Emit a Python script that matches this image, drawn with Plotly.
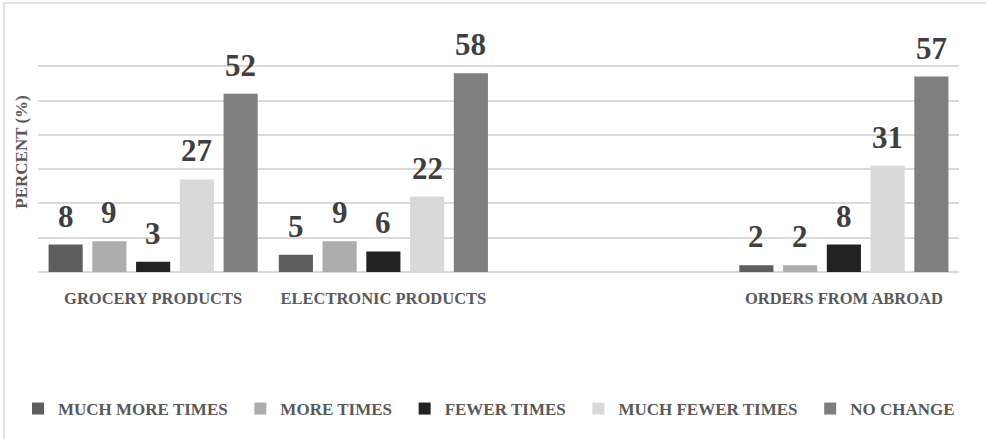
import plotly.graph_objects as go

# Purchase-frequency survey, percent of respondents per category
categories = ["GROCERY PRODUCTS", "ELECTRONIC PRODUCTS", " ", "ORDERS FROM ABROAD"]
series_names = ["MUCH MORE TIMES", "MORE TIMES", "FEWER TIMES", "MUCH FEWER TIMES", "NO CHANGE"]
much_more_times = [8, 5, None, 2]
more_times = [9, 9, None, 2]
fewer_times = [3, 6, None, 8]
much_fewer_times = [27, 22, None, 31]
no_change = [52, 58, None, 57]
series_values = [much_more_times, more_times, fewer_times, much_fewer_times, no_change]
series_colors = ["#5e5e5e", "#adadad", "#222222", "#d9d9d9", "#7f7f7f"]

W, H = 986, 439
M_L, M_R, M_T, M_B = 38, 27, 32, 167
BARGAP = 0.05
BARGROUPGAP = 0.22
FONT = "'Liberation Serif', 'Times New Roman', 'DejaVu Serif', serif"
TEXT_GRAY = "#595959"
LABEL_GRAY = "#3f3f3f"
GRID = "#d9d9d9"
# extra room after each legend entry (no-break space + thin space)
LEGEND_PAD = "\u00a0\u2009"

plot_w = W - M_L - M_R
plot_h = H - M_T - M_B


def px_x(px):
    return (px - M_L) / plot_w


def px_y(py):
    return (H - M_B - py) / plot_h


fig = go.Figure()
for name, vals, col in zip(series_names, series_values, series_colors):
    fig.add_trace(go.Bar(name=name + LEGEND_PAD, x=categories, y=vals,
                         marker=dict(color=col, line=dict(width=0))))

# value labels above each bar
n = len(series_names)
slot = (1 - BARGAP) / n
annotations = []
for i, vals in enumerate(series_values):
    for j, v in enumerate(vals):
        if v is None:
            continue
        annotations.append(dict(
            x=j + (i - (n - 1) / 2) * slot, y=v, xref="x", yref="y",
            text=f"<b>{v}</b>", showarrow=False, yanchor="bottom", yshift=9,
            font=dict(family=FONT, size=31, color=LABEL_GRAY),
        ))

fig.update_layout(
    width=W, height=H,
    margin=dict(l=M_L, r=M_R, t=M_T, b=M_B),
    paper_bgcolor="white", plot_bgcolor="white",
    barmode="group", bargap=BARGAP, bargroupgap=BARGROUPGAP,
    font=dict(family=FONT, color=TEXT_GRAY),
    showlegend=True,
    legend=dict(
        orientation="h", x=px_x(18), xanchor="left", y=px_y(409), yanchor="middle",
        font=dict(family=FONT, size=17, color=TEXT_GRAY, weight="bold"),
        itemclick=False, itemdoubleclick=False,
    ),
    annotations=annotations,
    shapes=[dict(
        type="rect", xref="paper", yref="paper",
        x0=px_x(4), x1=px_x(995), y0=px_y(3), y1=px_y(450),
        line=dict(color=GRID, width=1.5), layer="below",
    )],
)

fig.update_xaxes(
    showline=False, ticks="", showgrid=False,
    tickfont=dict(family=FONT, size=16.5, color=TEXT_GRAY, weight="bold"),
    ticklabelstandoff=14,
)
fig.update_yaxes(
    range=[0, 70], dtick=10, showticklabels=False, ticks="",
    showgrid=True, gridcolor=GRID, gridwidth=1.5,
    zeroline=True, zerolinecolor=GRID, zerolinewidth=1.5, showline=False,
    title=dict(text="<b>PERCENT (%)</b>", font=dict(family=FONT, size=17, color=TEXT_GRAY), standoff=5),
)

fig.write_html("out.html")
